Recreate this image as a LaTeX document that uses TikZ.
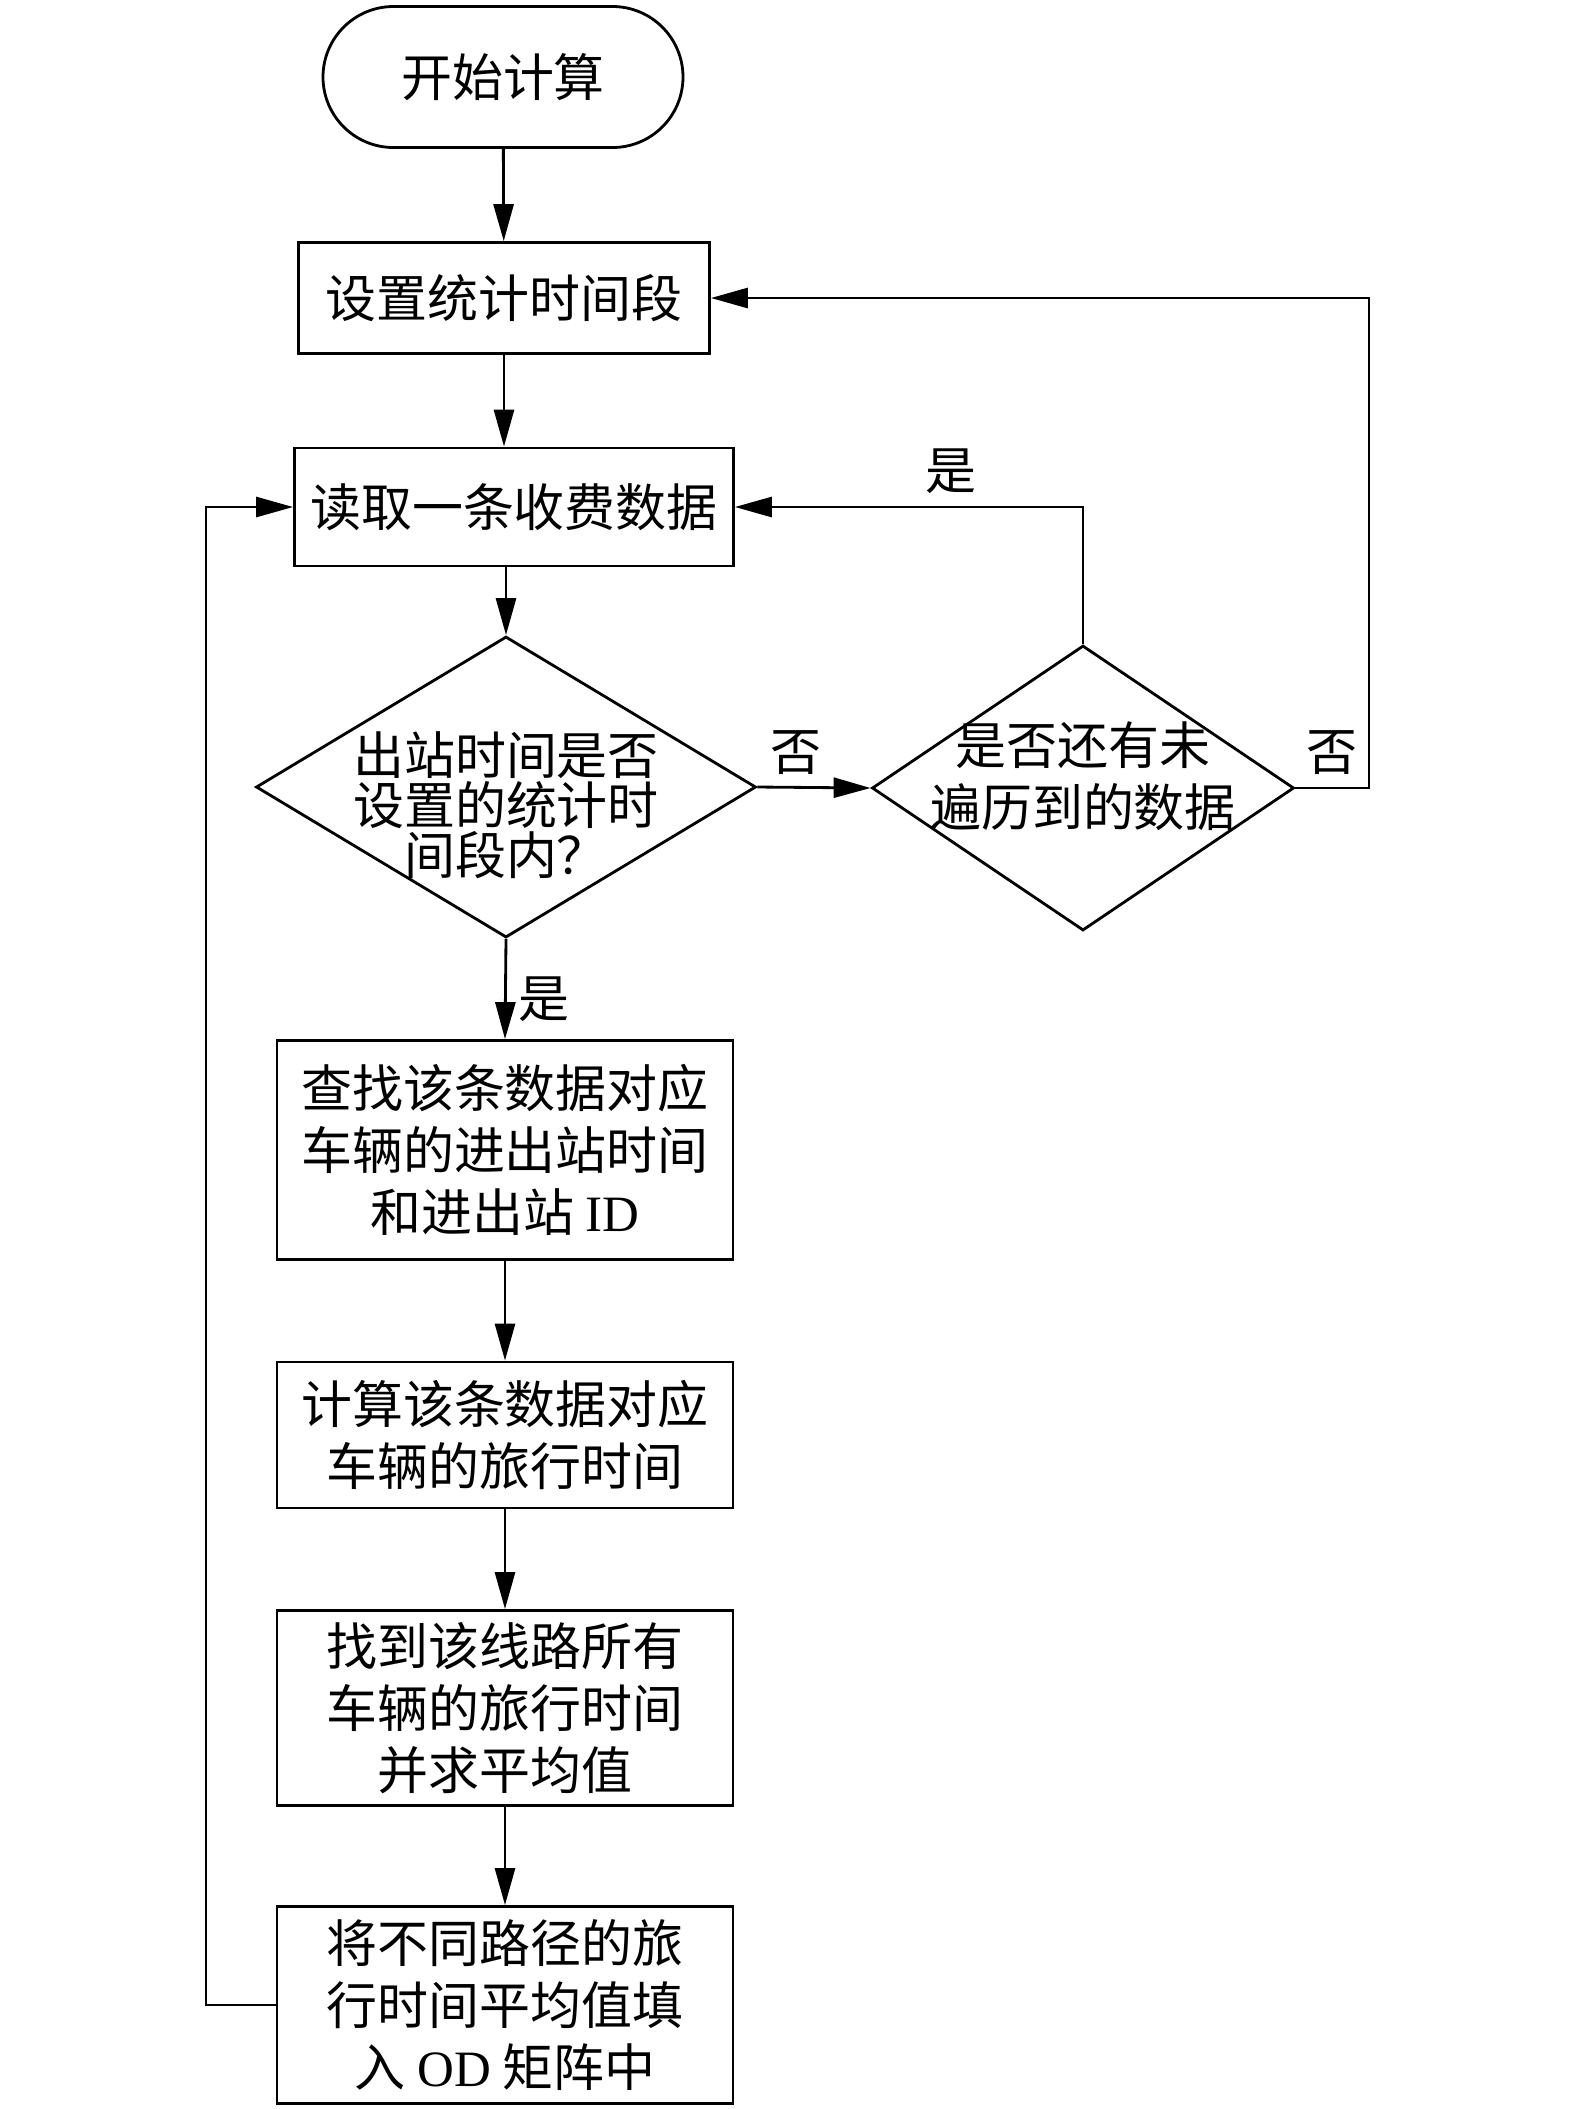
\documentclass[tikz,border=0pt]{standalone}
\usepackage{fontspec}
\setmainfont{Liberation Serif}
\newfontfamily\cjk{Noto Sans CJK SC}
\usetikzlibrary{shapes.geometric,shapes.misc,arrows.meta}

\begin{document}
\begin{tikzpicture}[
    line width=0.8pt,
    txt/.style={font=\cjk\fontsize{14.5}{17.6}\selectfont, align=center},
    proc/.style={txt, draw, rectangle, inner sep=0pt},
    term/.style={txt, draw, rounded rectangle, inner sep=0pt},
    cond/.style={draw, diamond, inner sep=0pt},
    flow/.style={-{Triangle[length=3.7mm,width=2mm]}}
  ]
  \useasboundingbox (0,0) rectangle (15.75,-21.09);

  % Steps
  \node[term, minimum width=3.60cm, minimum height=1.41cm] (start) at (5.03,-0.77) {开始计算};
  \node[proc, minimum width=4.11cm, minimum height=1.11cm] (period) at (5.04,-2.98) {设置统计时间段};
  \node[proc, minimum width=4.39cm, minimum height=1.18cm] (read) at (5.14,-5.07) {读取一条收费数据};
  \node[proc, minimum width=4.56cm, minimum height=2.19cm] (find) at (5.05,-11.50) {查找该条数据对应\\车辆的进出站时间\\和进出站 {\rmfamily ID}};
  \node[proc, minimum width=4.56cm, minimum height=1.46cm] (travel) at (5.05,-14.35) {计算该条数据对应\\车辆的旅行时间};
  \node[proc, minimum width=4.56cm, minimum height=1.95cm] (avg) at (5.05,-17.08) {找到该线路所有\\车辆的旅行时间\\并求平均值};
  \node[proc, minimum width=4.56cm, minimum height=1.97cm] (fill) at (5.05,-20.05) {将不同路径的旅\\行时间平均值填\\入 {\rmfamily OD} 矩阵中};

  % Decisions
  \node[cond, minimum width=5.00cm, minimum height=3.01cm] (inrange) at (5.06,-7.87) {};
  \node[txt, font=\cjk\fontsize{14.5}{14.2}\selectfont] (inrange-text) at (5.06,-8.05) {出站时间是否\\设置的统计时\\间段内？};
  \node[cond, minimum width=4.22cm, minimum height=2.85cm] (more) at (10.83,-7.88) {};
  \node[txt] (more-text) at (10.83,-7.76) {是否还有未\\遍历到的数据};

  % Loop corners
  \coordinate (rloop) at (13.69,-2.98);
  \coordinate (lloop) at (2.06,-5.07);

  % Connectors
  \draw[flow] (start) -- (period);
  \draw[flow] (period.south) -- (period.south |- read.north);
  \draw[flow] (inrange.north |- read.south) -- (inrange.north);
  \draw[flow] (inrange.south) -- node[txt, right, pos=0.6] (yes1) {是} (find.north);
  \draw[flow] (inrange.east) -- node[txt, above, pos=0.34] (no1) {否} (more.west);
  \draw[flow] (more.north) |- node[txt, above, pos=0.69] (yes2) {是} (read.east);
  \draw[flow] (more.east) -| node[txt, above, pos=0.25] (no2) {否} (rloop) -- (period.east);
  \draw[flow] (find) -- (travel);
  \draw[flow] (travel) -- (avg);
  \draw[flow] (avg) -- (fill);
  \draw[flow] (fill.west) -| (lloop) -- (read.west);
\end{tikzpicture}
\end{document}
